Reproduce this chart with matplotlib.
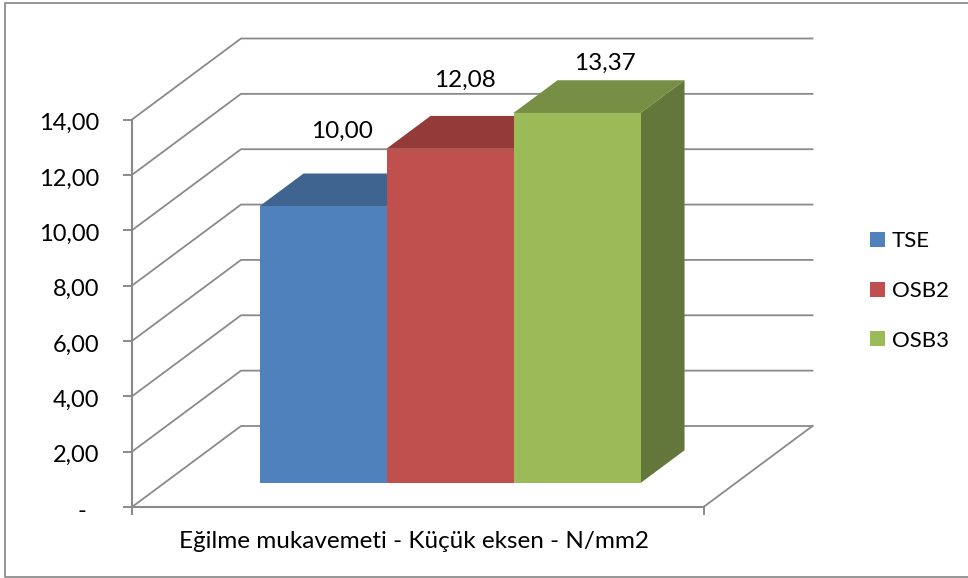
import matplotlib
matplotlib.use("Agg")
import matplotlib.pyplot as plt
from matplotlib.lines import Line2D
from matplotlib.patches import Patch
from matplotlib.transforms import ScaledTranslation
import numpy as np

plt.rcParams["font.family"] = ["Lato", "DejaVu Sans"]

series = ["TSE", "OSB2", "OSB3"]
values = [10.00, 12.08, 13.37]
value_labels = ["10,00", "12,08", "13,37"]
y_ticks = [0, 2, 4, 6, 8, 10, 12, 14]
y_tick_labels = ["-  ", "2,00", "4,00", "6,00", "8,00", "10,00", "12,00", "14,00"]
x_title = "Eğilme mukavemeti - Küçük eksen - N/mm2"

front_colors = ["#4F81BD", "#C0504D", "#9BBB59"]
top_colors = ["#3F648F", "#943B39", "#778E45"]
side_colors = ["#3A5F8B", "#8E3A38", "#64773A"]
label_dx = [0.65, 0.62, 0.72]   # from bar left edge, in bar widths
label_dy = [75, 68, 50]         # px above bar top
grid_col = "#8A8A8A"

W, H = 968, 578
fig = plt.figure(figsize=(W / 100, H / 100), dpi=100)
# axes = front plane of the 3d box
ax = fig.add_axes([132 / W, 1 - 507 / H, 571.5 / W, 387.5 / H])
ax.set_xlim(0, 4.5)
ax.set_ylim(0, 14)

# depth of the box in data units
depth_x = 109 / 127
depth_y = 81 / (387.5 / 14)


def proj(x, v, z):
    return x + z * depth_x, v + z * depth_y


# walls and floor
for v in y_ticks:
    p0 = proj(0, v, 0)
    p1 = proj(0, v, 1)
    p2 = proj(4.5, v, 1)
    ax.plot([p0[0], p1[0], p2[0]], [p0[1], p1[1], p2[1]], color=grid_col, lw=1.3,
            clip_on=False, zorder=1)
p0 = proj(4.5, 0, 0)
p1 = proj(4.5, 0, 1)
ax.plot([p0[0], p1[0]], [p0[1], p1[1]], color=grid_col, lw=1.3, clip_on=False, zorder=1)

# bars
z0, z1 = 0.296, 0.70
for i in range(len(series)):
    x0 = 0.75 + i
    x1 = x0 + 1
    v = values[i]
    zo = 3 + i
    top = [proj(x0, v, z0), proj(x0, v, z1), proj(x1, v, z1), proj(x1, v, z0)]
    side = [proj(x1, 0, z0), proj(x1, 0, z1), proj(x1, v, z1), proj(x1, v, z0)]
    front = [proj(x0, 0, z0), proj(x1, 0, z0), proj(x1, v, z0), proj(x0, v, z0)]
    ax.fill(*zip(*side), color=side_colors[i], lw=0, clip_on=False, zorder=zo)
    ax.fill(*zip(*top), color=top_colors[i], lw=0, clip_on=False, zorder=zo)
    ax.fill(*zip(*front), color=front_colors[i], lw=0, clip_on=False, zorder=zo)
    lx, ly = proj(x0 + label_dx[i], v, z0)
    ax.annotate(value_labels[i], (lx, ly), xytext=(0, label_dy[i] * 0.72),
                textcoords="offset points", ha="center", va="center",
                fontsize=17.5, color="black", zorder=10, annotation_clip=False)

# axes
for s in ["top", "right"]:
    ax.spines[s].set_visible(False)
for s in ["left", "bottom"]:
    ax.spines[s].set_color(grid_col)
    ax.spines[s].set_linewidth(1.5)
ax.patch.set_alpha(0)
ax.set_yticks(y_ticks)
ax.set_yticklabels(y_tick_labels, fontsize=17)
ax.set_xticks([0, 4.5])
ax.set_xticklabels([])
ax.tick_params(axis="y", length=6.5, width=1.4, color=grid_col, pad=17)
ax.tick_params(axis="x", length=6, width=1.4, color=grid_col)
ax.set_xlabel(x_title, fontsize=17.5, labelpad=8, x=0.4934)

# tick labels sit a little lower than the ticks
shift = ScaledTranslation(0, -2 / 100, fig.dpi_scale_trans)
for lab in ax.get_yticklabels():
    lab.set_transform(lab.get_transform() + shift)

handles = [Patch(color=c, lw=0) for c in front_colors]
ax.legend(handles, series, loc="center left", bbox_to_anchor=(870 / W, 1 - 291 / H),
          bbox_transform=fig.transFigure, frameon=False, fontsize=16,
          handlelength=0.675, handleheight=0.675, handletextpad=0.32, labelspacing=1.33,
          borderpad=0, borderaxespad=0)

# chart frame
frame_x = [968 / W, 4.5 / W, 4.5 / W, 968 / W]
frame_y = [1 - 2.5 / H, 1 - 2.5 / H, 1 - 577 / H, 1 - 577 / H]
fig.add_artist(Line2D(frame_x, frame_y, color="#8E8E8E", lw=1.3))

fig.savefig("out.png", dpi=100)
